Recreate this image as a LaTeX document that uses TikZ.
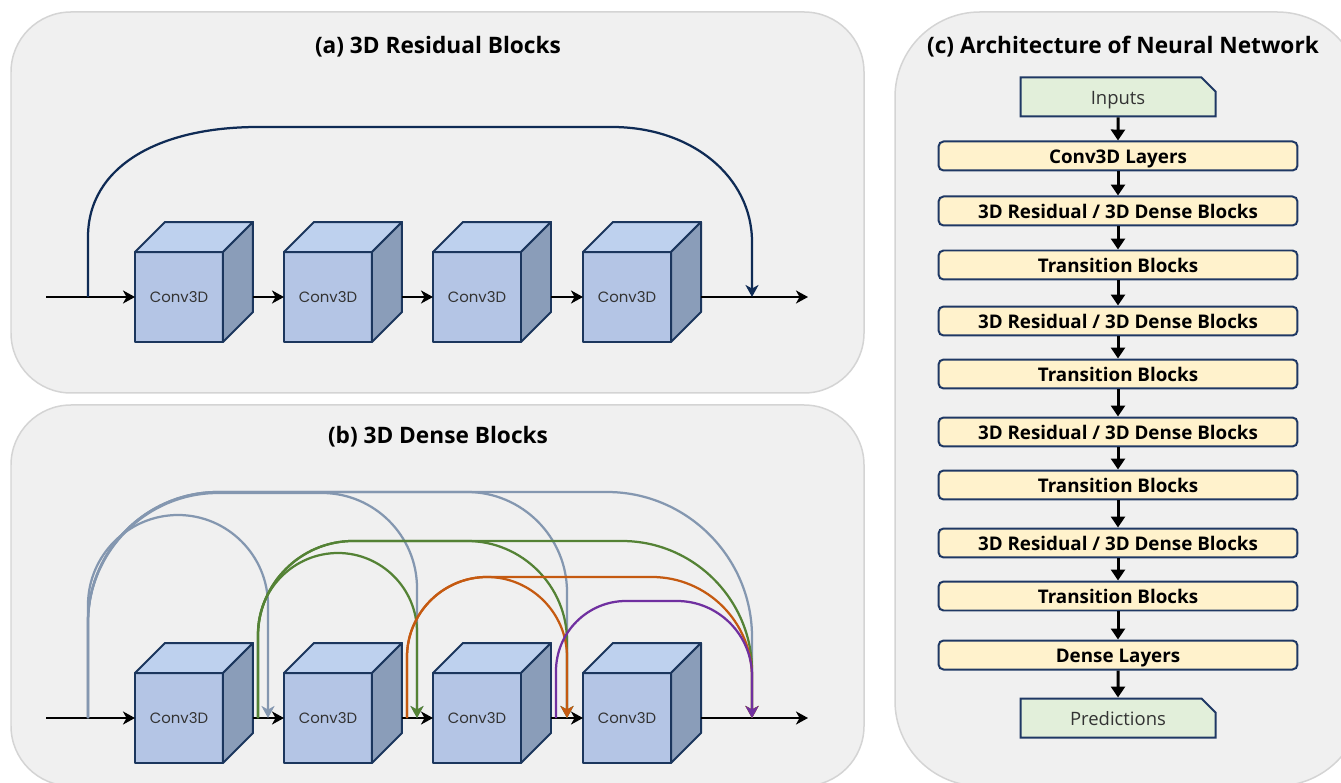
\documentclass[tikz,border=0pt]{standalone}
\usepackage{fontspec}
\setmainfont{Open Sans}
\newfontfamily\cubefont{Poppins}
\usepackage{tikz}
\usetikzlibrary{arrows.meta,calc,shapes.misc}
\definecolor{panelfill}{HTML}{F0F0F0}
\definecolor{paneledge}{HTML}{D4D4D4}
\definecolor{cubeedge}{HTML}{1B365D}
\definecolor{cubefront}{HTML}{B4C5E5}
\definecolor{cubetop}{HTML}{BED1EE}
\definecolor{cubeside}{HTML}{8A9DB9}
\definecolor{skipnavy}{HTML}{0F2B55}
\definecolor{arcblue}{HTML}{8497B0}
\definecolor{arcgreen}{HTML}{548235}
\definecolor{arcorange}{HTML}{C55A11}
\definecolor{arcpurple}{HTML}{7030A0}
\definecolor{boxfill}{HTML}{FFF2CC}
\definecolor{iofill}{HTML}{E2EFDA}
\definecolor{boxedge}{HTML}{1F3864}
\definecolor{iotext}{HTML}{333333}
\tikzstyle{panel}=[draw=paneledge, fill=panelfill, line width=0.03cm, rounded corners=1.2cm]
\tikzstyle{paneltitle}=[font=\bfseries\fontsize{12.9}{15}\selectfont]
\tikzstyle{cubeface}=[draw=cubeedge, line width=0.04cm, line join=round]
\tikzstyle{cubefront}=[cubeface, fill=cubefront, minimum width=1.76cm, minimum height=1.8cm, inner sep=0, outer sep=0, font=\cubefont\fontsize{8.5}{10}\selectfont, text=iotext]
\tikzstyle{flow}=[line width=0.04cm, -{Stealth[length=0.24cm,width=0.26cm,inset=0.07cm]}]
\tikzstyle{skiparc}=[flow, draw=skipnavy, line width=0.045cm]
\tikzstyle{densearc}=[line width=0.045cm, -{Stealth[length=0.24cm,width=0.26cm,inset=0.07cm]}]
\tikzstyle{archbox}=[draw=boxedge, fill=boxfill, line width=0.04cm, rounded corners=0.1cm, minimum width=7.18cm, minimum height=0.58cm, inner sep=0, text height=1.55ex, text depth=0pt, font=\bfseries\fontsize{10.7}{12}\selectfont]
\tikzstyle{iobox}=[chamfered rectangle, chamfered rectangle corners=north east, chamfered rectangle sep=0.14cm, draw=boxedge, fill=iofill, line width=0.04cm, minimum width=3.9cm, minimum height=0.78cm, inner sep=0, text height=1.55ex, text depth=0pt, font=\fontsize{10.5}{12}\selectfont, text=iotext]
\tikzstyle{archarrow}=[line width=0.06cm, -{Triangle[length=0.22cm,width=0.28cm]}]
% cube: name, x, y of the front face centre
\newcommand{\convcube}[3]{%
  \node[cubefront] (#1) at (#2,#3) {Conv3D};
  \draw[cubeface, fill=cubetop] (#1.north west) -- ++(30,30) -- ++(88,0) -- (#1.north east) -- cycle;
  \draw[cubeface, fill=cubeside] (#1.north east) -- ++(30,30) -- ++(0,-90) -- (#1.south east) -- cycle;
  \coordinate (#1o) at ($(#1.east)+(30,0)$);
}
% dense arc: colour, from, to, rise, left radius, right radius
\newcommand{\densearc}[6]{%
  \draw[densearc, draw=#1] (#2) -- ++(0,{#4-#5})
    .. controls +(0,{0.55*#5}) and +({-0.55*#5},0) .. ++(#5,#5)
    -- ($(#3)+({-#6},#4)$)
    .. controls +({0.55*#6},0) and +(0,{0.55*#6}) .. ++(#6,{-#6})
    -- (#3);
}

\begin{document}
\begin{tikzpicture}[x=0.02cm,y=0.02cm]
\useasboundingbox (0,0) rectangle (1341,-783);
\draw[panel] (11,-12) rectangle (864,-393);
\draw[panel] (11,-405) rectangle (864,-786);
\draw[panel, rounded corners=1.7cm] (895,-12) rectangle (1362,-786);
\node[paneltitle] (ta) at (438,-47) {(a) 3D Residual Blocks};
\node[paneltitle] (tb) at (438,-437) {(b) 3D Dense Blocks};
\node[paneltitle] (tc) at (1123,-47) {(c) Architecture of Neural Network};

% (a) residual
\foreach \i/\x in {1/179,2/328,3/477,4/627} {\convcube{a\i}{\x}{-297}}
\coordinate (ain) at (46,-297);
\coordinate (aout) at (808,-297);
\coordinate (askip) at (88,-297);
\coordinate (aadd) at (752,-297);
\draw[flow] (ain) -- (a1);
\draw[flow] (a1o) -- (a2);
\draw[flow] (a2o) -- (a3);
\draw[flow] (a3o) -- (a4);
\draw[flow] (a4o) -- (aout);
\draw[skiparc] (askip) -- ++(0,60) .. controls +(0,70) and +(-100,0) .. ++(170,110)
  -- ($(aadd)+(-140,170)$) .. controls +(80,0) and +(0,65) .. ++(140,-115) -- (aadd);

% (b) dense
\foreach \i/\x in {1/179,2/328,3/477,4/627} {\convcube{b\i}{\x}{-718}}
\coordinate (bin) at (46,-718);
\coordinate (bout) at (808,-718);
\coordinate (t0) at (88,-718);
\coordinate (t1) at (258,-718);
\coordinate (t2) at (407,-718);
\coordinate (t3) at (556,-718);
\coordinate (j2) at (268,-718);
\coordinate (j3) at (417,-718);
\coordinate (j4) at (567,-718);
\coordinate (j5) at (752,-718);
\draw[flow] (bin) -- (b1);
\draw[flow] (b1o) -- (b2);
\draw[flow] (b2o) -- (b3);
\draw[flow] (b3o) -- (b4);
\draw[flow] (b4o) -- (bout);
\foreach \c/\a/\b/\h/\p/\q in {arcblue/t0/j2/203/90/90, arcblue/t0/j3/225/130/95,
    arcblue/t0/j4/226/130/100, arcblue/t0/j5/226/130/145,
    arcgreen/t1/j3/165/80/79, arcgreen/t1/j4/177/95/100, arcgreen/t1/j5/177/95/130,
    arcorange/t2/j4/141/80/80, arcorange/t2/j5/141/80/100,
    arcpurple/t3/j5/117/70/75}
  {\densearc{\c}{\a}{\b}{\h}{\p}{\q}}

% (c) architecture
\node[iobox] (inp) at (1118,-97) {Inputs};
\node[archbox] (conv) at (1118,-156) {Conv3D Layers};
\node[archbox] (rd1) at (1118,-211) {3D Residual / 3D Dense Blocks};
\node[archbox] (tr1) at (1118,-265) {Transition Blocks};
\node[archbox] (rd2) at (1118,-321) {3D Residual / 3D Dense Blocks};
\node[archbox] (tr2) at (1118,-374) {Transition Blocks};
\node[archbox] (rd3) at (1118,-432) {3D Residual / 3D Dense Blocks};
\node[archbox] (tr3) at (1118,-485) {Transition Blocks};
\node[archbox] (rd4) at (1118,-543) {3D Residual / 3D Dense Blocks};
\node[archbox] (tr4) at (1118,-596) {Transition Blocks};
\node[archbox] (dense) at (1118,-655) {Dense Layers};
\node[iobox] (pred) at (1118,-718) {Predictions};
\foreach \u/\v in {inp/conv,conv/rd1,rd1/tr1,tr1/rd2,rd2/tr2,tr2/rd3,rd3/tr3,tr3/rd4,rd4/tr4,tr4/dense,dense/pred}
  {\draw[archarrow] (\u) -- (\v);}
\end{tikzpicture}
\end{document}
